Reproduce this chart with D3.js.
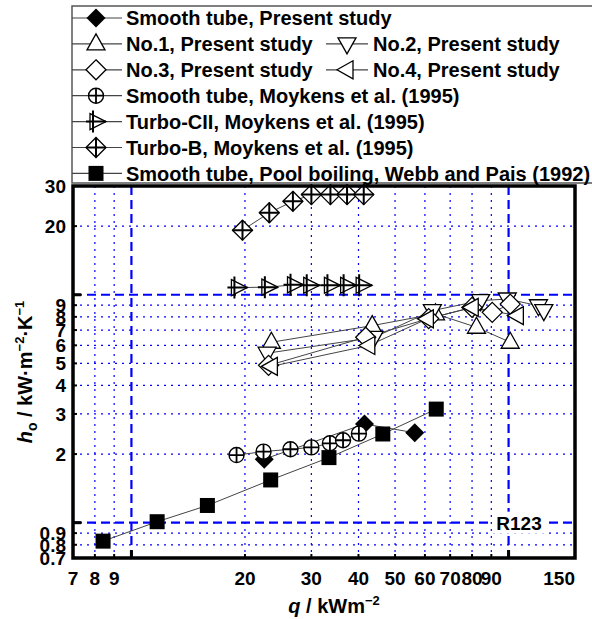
<!DOCTYPE html>
<html><head><meta charset="utf-8">
<script src="https://cdn.jsdelivr.net/npm/d3@7"></script>
<style>body{margin:0;background:#fff;} svg{display:block;font-family:"Liberation Sans",Arial,sans-serif;}</style>
</head><body>
<svg id="chart" width="592" height="619"></svg>
<script>
// ---- data (q in kW/m2, h in kW/m2K) ----
const smoothPresentQ = [22.5, 41.5, 56.4];
const smoothPresentH = [1.90, 2.71, 2.48];
const no1Q = [23.5, 43.5, 64.0, 82.2, 101];
const no1H = [6.19, 7.32, 8.25, 7.2, 6.19];
const no2Q = [22.9, 44.0, 62.8, 84.3, 99.2, 120, 124];
const no2H = [5.54, 6.5, 8.52, 9.42, 9.58, 8.95, 8.52];
const no3Q = [23.1, 41.8, 61.4, 80.0, 90.5, 101];
const no3H = [4.9, 6.51, 7.86, 8.8, 8.37, 9.1];
const no4Q = [23.5, 42.6, 60.9, 80.1, 105.5];
const no4H = [4.85, 5.99, 7.84, 8.8, 8.1];
const moySmoothQ = [19.0, 22.4, 26.4, 30.0, 33.6, 36.4, 40.1];
const moySmoothH = [1.98, 2.05, 2.10, 2.14, 2.23, 2.30, 2.46];
const turboCIIQ = [19.1, 23.0, 26.9, 29.7, 33.7, 37.2, 40.9];
const turboCIIH = [10.75, 10.8, 11.05, 11.0, 11.0, 11.0, 11.0];
const turboBQ = [19.7, 23.2, 26.8, 30.0, 33.7, 37.3, 41.3];
const turboBH = [19.2, 22.9, 25.7, 27.5, 27.5, 27.5, 27.5];
const webbQ = [8.41, 11.7, 15.9, 23.4, 33.4, 46.4, 64.3];
const webbH = [0.83, 1.01, 1.19, 1.54, 1.93, 2.45, 3.15];

const seriesNames = ["Smooth tube, Present study", "No.1, Present study", "No.2, Present study",
  "No.3, Present study", "No.4, Present study", "Smooth tube, Moykens et al. (1995)",
  "Turbo-CII, Moykens et al. (1995)", "Turbo-B, Moykens et al. (1995)",
  "Smooth tube, Pool boiling, Webb and Pais (1992)"];
const seriesSymbols = ["fdiamond", "tup", "tdown", "diamond", "tleft", "circplus", "triplus", "diamplus", "square"];

const xTickLabels = [7, 8, 9, 20, 30, 40, 50, 60, 70, 80, 90, 150];
const yTickLabels = [0.7, 0.8, 0.9, 2, 3, 4, 5, 6, 7, 8, 9, 20, 30];
const xDotted = [8, 9, 20, 30, 40, 50, 60, 70, 80, 90];
const xDashed = [10, 100];
const yDotted = [0.8, 0.9, 2, 3, 4, 5, 6, 7, 8, 9, 20];
const yDashed = [1, 10];

const series = [
  [smoothPresentQ, smoothPresentH], [no1Q, no1H], [no2Q, no2H], [no3Q, no3H], [no4Q, no4H],
  [moySmoothQ, moySmoothH], [turboCIIQ, turboCIIH], [turboBQ, turboBH], [webbQ, webbH]
].map((d, i) => ({name: seriesNames[i], sym: seriesSymbols[i], pts: d[0].map((q, j) => [q, d[1][j]])}));

// ---- layout ----
const L = 73, R = 575, T = 186, B = 558;
const svg = d3.select("#chart");
const x = d3.scaleLog().domain([7, 150]).range([L, R]);
const y = d3.scaleLog().domain([0.7, 30]).range([B, T]);

function marker(g, type) {
  const sw = 1.3;
  switch (type) {
    case "fdiamond": g.append("path").attr("d", "M0,-9.5L9.5,0L0,9.5L-9.5,0Z").attr("fill", "#000"); break;
    case "square": g.append("rect").attr("x", -7.5).attr("y", -7.5).attr("width", 15).attr("height", 15).attr("fill", "#000"); break;
    case "tup": g.append("path").attr("d", "M0,-10L9,6L-9,6Z").attr("fill", "#fff").attr("stroke", "#000").attr("stroke-width", sw); break;
    case "tdown": g.append("path").attr("d", "M0,10L9,-6L-9,-6Z").attr("fill", "#fff").attr("stroke", "#000").attr("stroke-width", sw); break;
    case "tleft": g.append("path").attr("d", "M-10,0L6,-9L6,9Z").attr("fill", "#fff").attr("stroke", "#000").attr("stroke-width", sw); break;
    case "diamond": g.append("path").attr("d", "M0,-10L10,0L0,10L-10,0Z").attr("fill", "#fff").attr("stroke", "#000").attr("stroke-width", sw); break;
    case "circplus":
      g.append("circle").attr("r", 7.5).attr("fill", "#fff").attr("stroke", "#000").attr("stroke-width", 1.4);
      g.append("path").attr("d", "M-7.5,0H7.5M0,-7.5V7.5").attr("stroke", "#000").attr("stroke-width", 1.8); break;
    case "triplus":
      g.append("path").attr("d", "M10,0L-6,-8L-6,8Z").attr("fill", "#fff").attr("stroke", "#000").attr("stroke-width", sw);
      g.append("path").attr("d", "M-10,0H10M-3,-11V11").attr("stroke", "#000").attr("stroke-width", 2); break;
    case "diamplus":
      g.append("path").attr("d", "M0,-10L10,0L0,10L-10,0Z").attr("fill", "#fff").attr("stroke", "#000").attr("stroke-width", sw);
      g.append("path").attr("d", "M-10,0H10M0,-10V10").attr("stroke", "#000").attr("stroke-width", 2); break;
  }
}

// ---- grid ----
const grid = svg.append("g");
grid.selectAll(".vx").data(xDotted).join("line")
  .attr("x1", d => x(d)).attr("x2", d => x(d)).attr("y1", T).attr("y2", B)
  .attr("stroke", "#0000ff").attr("stroke-width", 1.2).attr("stroke-dasharray", "2,5");
grid.selectAll(".hy").data(yDotted).join("line")
  .attr("y1", d => y(d)).attr("y2", d => y(d)).attr("x1", L).attr("x2", R)
  .attr("stroke", "#0000ff").attr("stroke-width", 1.2).attr("stroke-dasharray", "2,5");
grid.selectAll(".vd").data(xDashed).join("line")
  .attr("x1", d => x(d)).attr("x2", d => x(d)).attr("y1", T).attr("y2", B)
  .attr("stroke", "#0000ff").attr("stroke-width", 2.2).attr("stroke-dasharray", "9,5");
grid.selectAll(".hd").data(yDashed).join("line")
  .attr("y1", d => y(d)).attr("y2", d => y(d)).attr("x1", L).attr("x2", R)
  .attr("stroke", "#0000ff").attr("stroke-width", 2.2).attr("stroke-dasharray", "9,5");

// ---- R123 label ----
const rl = svg.append("g");
rl.append("rect").attr("x", 493).attr("y", y(1) - 11).attr("width", 52).attr("height", 22).attr("fill", "#fff");
rl.append("text").attr("x", 519).attr("y", y(1)).attr("dy", "0.36em").attr("text-anchor", "middle")
  .attr("font-size", 19).attr("font-weight", "bold").text("R123");

// ---- lines + markers ----
const line = d3.line().x(d => x(d[0])).y(d => y(d[1]));
svg.append("g").selectAll("path").data(series).join("path")
  .attr("d", d => line(d.pts)).attr("fill", "none").attr("stroke", "#444").attr("stroke-width", 1);
series.forEach(s => {
  s.pts.forEach(p => {
    const g = svg.append("g").attr("transform", `translate(${x(p[0])},${y(p[1])})`);
    marker(g, s.sym);
  });
});

// ---- ticks ----
const tk = svg.append("g").attr("stroke", "#000");
const xMinor = [8, 9, 20, 30, 40, 50, 60, 70, 80, 90], xMajor = [10, 100];
const yMinor = [0.8, 0.9, 2, 3, 4, 5, 6, 7, 8, 9, 20], yMajor = [1, 10];
xMinor.forEach(v => { tk.append("line").attr("x1", x(v)).attr("x2", x(v)).attr("y1", B).attr("y2", B - 4).attr("stroke-width", 2); });
xMajor.forEach(v => { tk.append("line").attr("x1", x(v)).attr("x2", x(v)).attr("y1", B).attr("y2", B - 8).attr("stroke-width", 3); });
yMinor.forEach(v => { tk.append("line").attr("y1", y(v)).attr("y2", y(v)).attr("x1", L).attr("x2", L + 4).attr("stroke-width", 2); });
yMajor.forEach(v => { tk.append("line").attr("y1", y(v)).attr("y2", y(v)).attr("x1", L).attr("x2", L + 8).attr("stroke-width", 3); });

// ---- frame ----
svg.append("rect").attr("x", L).attr("y", T).attr("width", R - L).attr("height", B - T)
  .attr("fill", "none").attr("stroke", "#000").attr("stroke-width", 3.5);

// ---- tick labels ----
svg.append("g").selectAll("text").data(xTickLabels).join("text")
  .attr("x", d => x(d)).attr("y", 578).attr("dy", "0.36em")
  .attr("text-anchor", d => d === 150 ? "end" : "middle")
  .attr("font-size", 19).attr("font-weight", "bold").text(d => d);
svg.append("g").selectAll("text").data(yTickLabels).join("text")
  .attr("x", 66).attr("y", d => y(d)).attr("dy", "0.36em").attr("text-anchor", "end")
  .attr("font-size", 19).attr("font-weight", "bold").text(d => d);

// ---- axis titles ----
const xt = svg.append("text").attr("x", 334).attr("y", 606).attr("dy", "0.36em").attr("text-anchor", "middle")
  .attr("font-size", 20).attr("font-weight", "bold");
xt.append("tspan").attr("font-style", "italic").text("q");
xt.append("tspan").text(" / kWm");
xt.append("tspan").attr("font-size", 13).attr("dy", -8).text("\u22122");

const yt = svg.append("text").attr("transform", "translate(25,372) rotate(-90)").attr("text-anchor", "middle")
  .attr("font-size", 20).attr("font-weight", "bold").attr("dy", "0.36em");
yt.append("tspan").attr("font-style", "italic").text("h");
yt.append("tspan").attr("font-size", 14).attr("dy", 5).text("o");
yt.append("tspan").attr("dy", -5).text(" / kW\u00b7m");
yt.append("tspan").attr("font-size", 13).attr("dy", -8).text("\u22122");
yt.append("tspan").attr("dy", 8).text("\u00b7K");
yt.append("tspan").attr("font-size", 13).attr("dy", -8).text("\u22121");

// ---- legend ----
const lg = svg.append("g");
lg.append("rect").attr("x", 72).attr("y", 6).attr("width", 560).attr("height", 177)
  .attr("fill", "#fff").attr("stroke", "#555").attr("stroke-width", 1.5);
const legendPos = [[0, 0], [0, 1], [1, 1], [0, 2], [1, 2], [0, 3], [0, 4], [0, 5], [0, 6]];
series.forEach((s, i) => {
  const [c, r] = legendPos[i];
  const yy = 18 + r * 25.9;
  const x0 = c === 0 ? 72 : 326, x1 = c === 0 ? 122 : 368, xm = c === 0 ? 96 : 347;
  const tx = c === 0 ? 126 : 373;
  lg.append("line").attr("x1", x0).attr("x2", x1).attr("y1", yy).attr("y2", yy).attr("stroke", "#444").attr("stroke-width", 1.2);
  marker(lg.append("g").attr("transform", `translate(${xm},${yy})`), s.sym);
  lg.append("text").attr("x", tx).attr("y", yy).attr("dy", "0.36em").attr("font-size", 20)
    .attr("font-weight", "bold").text(s.name);
});
</script>
</body></html>
